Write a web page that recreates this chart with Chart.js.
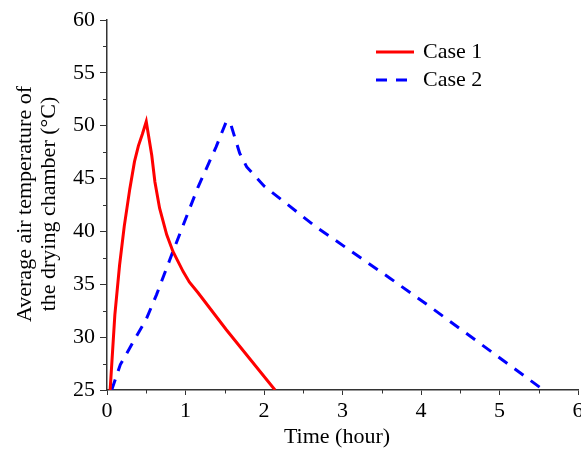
<!DOCTYPE html>
<html>
<head>
<meta charset="utf-8">
<script src="https://cdn.jsdelivr.net/npm/chart.js@4"></script>
<style>
html,body{margin:0;padding:0;background:#fff;}
#wrap{width:581px;height:450px;position:relative;}
</style>
</head>
<body>
<div id="wrap"><canvas id="c" width="581" height="450"></canvas></div>
<script>
const case1Time = [0.04, 0.10, 0.16, 0.22, 0.29, 0.35, 0.40, 0.45, 0.50, 0.57, 0.61, 0.67, 0.76, 0.84, 0.97, 1.05, 1.16, 1.52, 2.14];
const case1Temp = [25.0, 32.1, 36.8, 40.5, 44.0, 46.6, 48.1, 49.2, 50.4, 47.2, 44.7, 42.2, 39.7, 38.1, 36.2, 35.2, 34.2, 30.7, 25.0];
const case2Time = [0.06, 0.17, 0.33, 0.50, 0.63, 0.84, 1.16, 1.39, 1.52, 1.57, 1.69, 1.78, 2.00, 2.65, 3.60, 4.13, 5.56];
const case2Temp = [25.0, 27.4, 29.5, 31.7, 34.0, 38.1, 44.2, 48.0, 50.4, 50.3, 47.4, 46.1, 44.3, 40.5, 35.6, 32.8, 25.0];
const seriesNames = ['Case 1', 'Case 2'];
const xTitle = 'Time (hour)';
const yTitle = ['Average air temperature of', 'the drying chamber (°C)'];
const FONT = "'Liberation Serif', 'Times New Roman', serif";

const toXY = (xs, ys) => xs.map((x, i) => ({x: x, y: ys[i]}));

const extras = {
  id: 'extras',
  afterDraw(chart) {
    const ctx = chart.ctx;
    const xs = chart.scales.x, ys = chart.scales.y;
    const ca = chart.chartArea;
    ctx.save();
    ctx.strokeStyle = '#333';
    ctx.lineWidth = 1;
    ctx.beginPath();
    for (let v = 0.5; v < 6; v += 1) {
      const px = Math.round(xs.getPixelForValue(v)) + 0.5;
      ctx.moveTo(px, ca.bottom); ctx.lineTo(px, ca.bottom + 3.5);
    }
    for (let v = 27.5; v < 60; v += 5) {
      const py = Math.round(ys.getPixelForValue(v)) + 0.5;
      ctx.moveTo(ca.left, py); ctx.lineTo(ca.left - 4, py);
    }
    ctx.stroke();
    ctx.fillStyle = '#000';
    ctx.font = '22px ' + FONT;
    ctx.textAlign = 'center';
    ctx.textBaseline = 'middle';
    ctx.fillText(xTitle, 337, 437);
    ctx.save();
    ctx.translate(0, 204);
    ctx.rotate(-Math.PI / 2);
    ctx.fillText(yTitle[0], 0, 25);
    ctx.fillText(yTitle[1], 0, 49);
    ctx.restore();
    const ds = chart.data.datasets;
    const rows = [52, 80];
    ds.forEach((d, i) => {
      ctx.save();
      ctx.strokeStyle = d.borderColor;
      ctx.lineWidth = 3;
      ctx.setLineDash(d.borderDash || []);
      ctx.beginPath();
      ctx.moveTo(376, rows[i]); ctx.lineTo(414, rows[i]);
      ctx.stroke();
      ctx.restore();
      ctx.textAlign = 'left';
      ctx.fillStyle = '#000';
      ctx.fillText(d.label, 423, rows[i]);
    });
    ctx.restore();
  }
};

new Chart(document.getElementById('c'), {
  type: 'line',
  data: {
    datasets: [
      {label: seriesNames[0], data: toXY(case1Time, case1Temp), borderColor: '#ff0000', borderWidth: 3, pointRadius: 0, tension: 0, fill: false},
      {label: seriesNames[1], data: toXY(case2Time, case2Temp), borderColor: '#0000ff', borderWidth: 3, borderDash: [11, 9], pointRadius: 0, tension: 0, fill: false}
    ]
  },
  options: {
    responsive: false,
    animation: false,
    events: [],
    layout: {padding: {left: 0, right: 3, top: 20, bottom: 0}},
    plugins: {legend: {display: false}, tooltip: {enabled: false}, title: {display: false}},
    scales: {
      x: {
        type: 'linear', min: 0, max: 6,
        border: {display: true, color: '#333', width: 1.5},
        grid: {drawOnChartArea: false, drawTicks: true, tickLength: 5, tickColor: '#333'},
        ticks: {stepSize: 1, padding: 3, color: '#000', font: {family: FONT, size: 22}, maxRotation: 0},
        afterFit(s) { s.height = 60; s.paddingRight = 0; s.paddingLeft = 0; }
      },
      y: {
        type: 'linear', min: 25, max: 60,
        border: {display: true, color: '#333', width: 1.5},
        grid: {drawOnChartArea: false, drawTicks: true, tickLength: 7, tickColor: '#333'},
        ticks: {stepSize: 5, padding: 5, color: '#000', font: {family: FONT, size: 22}},
        afterFit(s) { s.width = 107; s.paddingTop = 0; s.paddingBottom = 0; }
      }
    }
  },
  plugins: [extras]
});
</script>
</body>
</html>
